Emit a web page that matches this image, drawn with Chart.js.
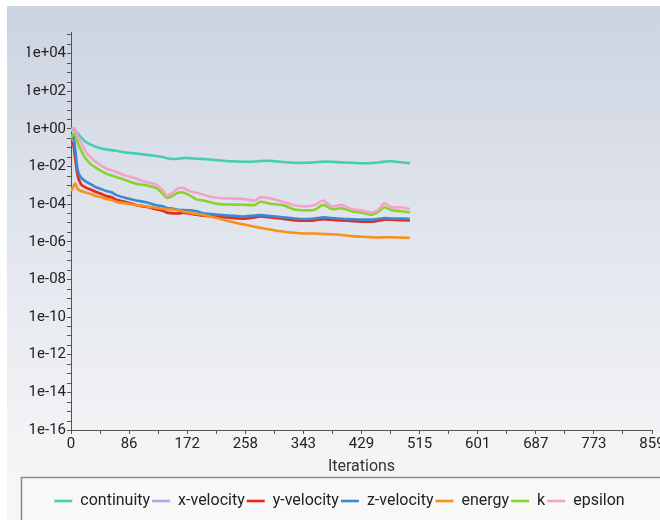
<!DOCTYPE html>
<html>
<head>
<meta charset="utf-8">
<script src="https://cdn.jsdelivr.net/npm/chart.js@4.4.1/dist/chart.umd.min.js"></script>
<style>
  html, body { margin: 0; padding: 0; background: #fff; }
</style>
</head>
<body>
<canvas id="residuals" width="660" height="520"></canvas>
<script>
// --- Data ---
const iterations = [0, 3, 6, 10, 15, 22, 30, 37, 45, 52, 60, 67, 81, 96, 111, 126, 136, 142, 150, 158, 166, 175, 186, 195, 206, 220, 235, 254, 272, 280, 294, 313, 330, 345, 360, 373, 385, 400, 415, 430, 445, 455, 463, 474, 489, 501];

const continuity = [7.1e-1, 9.5e-1, 8.3e-1, 5.6e-1, 3.5e-1, 2.0e-1, 1.4e-1, 1.1e-1, 9.1e-2, 8.1e-2, 7.4e-2, 6.8e-2, 5.6e-2, 4.9e-2, 4.2e-2, 3.6e-2, 3.2e-2, 2.75e-2, 2.5e-2, 2.6e-2, 2.8e-2, 2.8e-2, 2.6e-2, 2.5e-2, 2.35e-2, 2.1e-2, 1.9e-2, 1.8e-2, 1.86e-2, 1.95e-2, 2.0e-2, 1.74e-2, 1.58e-2, 1.58e-2, 1.66e-2, 1.82e-2, 1.78e-2, 1.66e-2, 1.58e-2, 1.48e-2, 1.51e-2, 1.62e-2, 1.82e-2, 1.9e-2, 1.66e-2, 1.51e-2];

const xVelocity = [1.5e-1, 1.7e-1, 3.0e-2, 3.0e-3, 1.1e-3, 7.4e-4, 5.7e-4, 4.3e-4, 3.4e-4, 2.7e-4, 2.3e-4, 1.7e-4, 1.3e-4, 9.0e-5, 7.3e-5, 5.5e-5, 4.6e-5, 3.6e-5, 3.4e-5, 3.2e-5, 3.5e-5, 3.2e-5, 2.8e-5, 2.5e-5, 2.3e-5, 2.1e-5, 1.9e-5, 1.7e-5, 2.0e-5, 2.2e-5, 2.0e-5, 1.7e-5, 1.43e-5, 1.34e-5, 1.4e-5, 1.6e-5, 1.5e-5, 1.37e-5, 1.28e-5, 1.2e-5, 1.2e-5, 1.34e-5, 1.52e-5, 1.5e-5, 1.43e-5, 1.4e-5];

const yVelocity = [1.58e-1, 1.78e-1, 3.2e-2, 3.2e-3, 1.12e-3, 7.6e-4, 5.8e-4, 4.4e-4, 3.5e-4, 2.7e-4, 2.3e-4, 1.7e-4, 1.29e-4, 8.9e-5, 7.2e-5, 5.4e-5, 4.5e-5, 3.5e-5, 3.3e-5, 3.2e-5, 3.5e-5, 3.2e-5, 2.75e-5, 2.5e-5, 2.3e-5, 2.1e-5, 1.9e-5, 1.7e-5, 2.0e-5, 2.2e-5, 2.0e-5, 1.66e-5, 1.41e-5, 1.32e-5, 1.38e-5, 1.58e-5, 1.48e-5, 1.35e-5, 1.26e-5, 1.17e-5, 1.17e-5, 1.32e-5, 1.51e-5, 1.48e-5, 1.41e-5, 1.38e-5];

const zVelocity = [2.5e-1, 5.0e-1, 1.0e-1, 6.3e-3, 2.5e-3, 1.58e-3, 1.1e-3, 7.9e-4, 6.3e-4, 5.0e-4, 4.3e-4, 3.0e-4, 2.1e-4, 1.58e-4, 1.26e-4, 8.7e-5, 7.6e-5, 6.3e-5, 5.8e-5, 5.0e-5, 4.9e-5, 4.7e-5, 4.2e-5, 3.3e-5, 3.0e-5, 2.7e-5, 2.5e-5, 2.2e-5, 2.5e-5, 2.6e-5, 2.35e-5, 2.0e-5, 1.74e-5, 1.62e-5, 1.74e-5, 2.0e-5, 1.82e-5, 1.66e-5, 1.58e-5, 1.51e-5, 1.51e-5, 1.66e-5, 1.82e-5, 1.74e-5, 1.7e-5, 1.62e-5];

const energy = [5.0e-4, 7.9e-4, 1.26e-3, 6.3e-4, 5.0e-4, 4.2e-4, 3.4e-4, 2.7e-4, 2.3e-4, 1.9e-4, 1.66e-4, 1.32e-4, 1.1e-4, 8.9e-5, 7.6e-5, 6.3e-5, 5.8e-5, 5.2e-5, 5.2e-5, 4.7e-5, 4.0e-5, 3.5e-5, 3.0e-5, 2.7e-5, 2.2e-5, 1.66e-5, 1.2e-5, 8.5e-6, 6.3e-6, 5.5e-6, 4.5e-6, 3.5e-6, 3.0e-6, 2.75e-6, 2.75e-6, 2.6e-6, 2.5e-6, 2.3e-6, 2.0e-6, 1.86e-6, 1.74e-6, 1.7e-6, 1.74e-6, 1.74e-6, 1.66e-6, 1.62e-6];

const kResidual = [3.2e-1, 5.0e-1, 5.6e-1, 1.78e-1, 7.1e-2, 2.6e-2, 1.26e-2, 8.5e-3, 5.6e-3, 4.2e-3, 3.3e-3, 2.8e-3, 1.86e-3, 1.23e-3, 1.0e-3, 7.2e-4, 3.5e-4, 2.1e-4, 2.8e-4, 4.0e-4, 4.2e-4, 3.0e-4, 1.74e-4, 1.58e-4, 1.26e-4, 1.0e-4, 9.5e-5, 9.3e-5, 9.1e-5, 1.35e-4, 1.05e-4, 8.9e-5, 5.2e-5, 4.7e-5, 5.0e-5, 9.1e-5, 5.5e-5, 6.0e-5, 4.2e-5, 3.5e-5, 2.75e-5, 4.0e-5, 6.8e-5, 4.8e-5, 4.2e-5, 3.6e-5];

const epsilon = [7.9e-1, 1.12, 1.0, 3.8e-1, 1.78e-1, 6.0e-2, 2.8e-2, 1.74e-2, 1.1e-2, 7.8e-3, 6.3e-3, 5.1e-3, 3.2e-3, 2.3e-3, 1.5e-3, 1.1e-3, 5.4e-4, 2.8e-4, 4.1e-4, 6.8e-4, 7.2e-4, 5.0e-4, 4.0e-4, 3.2e-4, 2.5e-4, 2.1e-4, 2.0e-4, 1.9e-4, 1.55e-4, 2.35e-4, 2.05e-4, 1.35e-4, 8.7e-5, 7.6e-5, 8.9e-5, 1.55e-4, 7.6e-5, 9.1e-5, 5.5e-5, 4.6e-5, 3.6e-5, 5.2e-5, 1.1e-4, 6.8e-5, 6.8e-5, 5.4e-5];

const seriesNames = ['continuity', 'x-velocity', 'y-velocity', 'z-velocity', 'energy', 'k', 'epsilon'];
const seriesValues = [continuity, xVelocity, yVelocity, zVelocity, energy, kResidual, epsilon];
const seriesColors = ['#44ceb2', '#b3a6e2', '#e8281e', '#3a8ad2', '#f7901c', '#8ad22c', '#f5a2cb'];

const xTickLabels = ['0', '86', '172', '258', '343', '429', '515', '601', '687', '773', '859'];
const xMax = 859;
const yTickLabels = ['1e-16', '1e-14', '1e-12', '1e-10', '1e-08', '1e-06', '1e-04', '1e-02', '1e+00', '1e+02', '1e+04'];
const yMin = 1e-16;
const yMax = 1.4e5;

// --- Axis ticks ---
const xTicks = [];
for (let i = 0; i <= 20; i++) xTicks.push({ value: i * xMax / 20 });

const yTicks = [];
for (let e = -16; e <= 5; e++) {
  yTicks.push({ value: Math.pow(10, e) });
  if (e < 5) yTicks.push({ value: 3 * Math.pow(10, e) });
}

function yLabel(value) {
  const hit = yTickLabels.find(t => Math.abs(Math.log10(Number(t)) - Math.log10(value)) < 1e-6);
  return hit || '';
}

// --- Panel background + legend frame ---
const panelBackground = {
  id: 'panelBackground',
  beforeDraw(chart) {
    const { ctx, width, height } = chart;
    ctx.save();
    ctx.fillStyle = '#ffffff';
    ctx.fillRect(0, 0, width, height);
    const grad = ctx.createLinearGradient(0, 6, 0, 480);
    grad.addColorStop(0, '#ccd3e1');
    grad.addColorStop(0.5, '#e2e6ed');
    grad.addColorStop(1, '#f6f6f7');
    ctx.fillStyle = grad;
    ctx.fillRect(7, 6, width - 7, height - 6);
    ctx.fillStyle = '#f8f8f8';
    ctx.fillRect(21, 477, width, height);
    ctx.strokeStyle = '#8a8a8a';
    ctx.lineWidth = 1.5;
    ctx.strokeRect(21.5, 477.5, width + 10, height);
    ctx.restore();
  }
};

const tickFont = { family: 'Roboto', size: 15 };
const textFont = { family: 'Roboto', size: 16 };

new Chart(document.getElementById('residuals'), {
  type: 'line',
  data: {
    datasets: seriesNames.map((name, i) => ({
      label: name,
      data: iterations.map((it, j) => ({ x: it, y: seriesValues[i][j] })),
      borderColor: seriesColors[i],
      backgroundColor: seriesColors[i],
      borderWidth: 2.6,
      pointRadius: 0,
      tension: 0.25,
      fill: false,
      order: seriesNames.length - 1 - i
    }))
  },
  options: {
    responsive: false,
    animation: false,
    layout: { padding: { left: 27, right: 8, top: 32, bottom: 1 } },
    plugins: {
      tooltip: { enabled: false },
      legend: {
        position: 'bottom',
        labels: {
          font: textFont,
          color: '#222',
          usePointStyle: true,
          pointStyle: 'line',
          pointStyleWidth: 18,
          padding: 2,
          sort: (a, b) => a.datasetIndex - b.datasetIndex
        }
      }
    },
    scales: {
      x: {
        type: 'linear',
        min: 0,
        max: xMax,
        afterBuildTicks: scale => { scale.ticks = xTicks.map(t => ({ ...t })); },
        afterFit: scale => { scale.height = 61; scale.paddingLeft = 0; scale.paddingRight = 0; },
        ticks: {
          autoSkip: false,
          maxRotation: 0,
          padding: 1,
          color: '#222',
          font: tickFont,
          callback: (value, index) => (index % 2 === 0 ? xTickLabels[index / 2] : '')
        },
        grid: { drawOnChartArea: false, drawTicks: true, tickLength: 4, color: '#555' },
        border: { color: '#555', width: 1 },
        title: { display: true, text: 'Iterations', color: '#333', font: textFont, padding: { top: 4, bottom: 14 } }
      },
      y: {
        type: 'logarithmic',
        min: yMin,
        max: yMax,
        afterBuildTicks: scale => { scale.ticks = yTicks.map(t => ({ ...t })); },
        afterFit: scale => { scale.width = 44; },
        ticks: {
          autoSkip: false,
          padding: 1,
          color: '#222',
          font: tickFont,
          callback: value => yLabel(value)
        },
        grid: { drawOnChartArea: false, drawTicks: true, tickLength: 4, color: '#555' },
        border: { color: '#555', width: 1 }
      }
    }
  },
  plugins: [panelBackground]
});
</script>
</body>
</html>
